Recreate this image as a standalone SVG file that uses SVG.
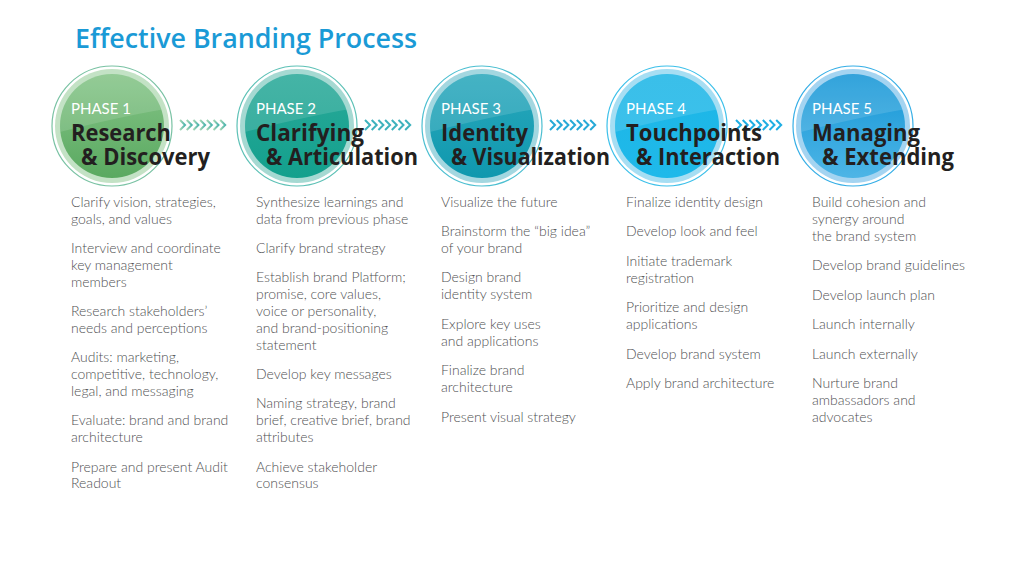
<svg xmlns="http://www.w3.org/2000/svg" width="1024" height="564" viewBox="0 0 1024 564">
<style>
.title{font-family:"Open Sans","Liberation Sans",sans-serif;font-weight:600;font-size:27px;fill:#1a9ad6}
.phase{font-family:"Lato","Liberation Sans",sans-serif;font-weight:400;font-size:15px;fill:#ffffff}
.head{font-family:"Open Sans","Liberation Sans",sans-serif;font-weight:700;font-size:22.5px;fill:#231f20}
.body{font-family:"Lato","Liberation Sans",sans-serif;font-weight:300;font-size:14px;fill:#505153}
.chev{fill:none;stroke-width:2}
.gloss{fill:#ffffff;fill-opacity:0.13}
</style>
<defs>
<linearGradient id="g1" x1="0" y1="0" x2="0" y2="1"><stop offset="0" stop-color="#84c487"/><stop offset="1" stop-color="#5aa960"/></linearGradient>
<linearGradient id="g2" x1="0" y1="0" x2="0" y2="1"><stop offset="0" stop-color="#2aa999"/><stop offset="1" stop-color="#13a08d"/></linearGradient>
<linearGradient id="g3" x1="0" y1="0" x2="0" y2="1"><stop offset="0" stop-color="#2aa8bc"/><stop offset="1" stop-color="#0f98ae"/></linearGradient>
<linearGradient id="g4" x1="0" y1="0" x2="0" y2="1"><stop offset="0" stop-color="#1db6e6"/><stop offset="1" stop-color="#1fb9ea"/></linearGradient>
<linearGradient id="g5" x1="0" y1="0" x2="0" y2="1"><stop offset="0" stop-color="#1596d6"/><stop offset="1" stop-color="#4db5e6"/></linearGradient>
<linearGradient id="cg1" x1="0" y1="0" x2="1" y2="0"><stop offset="0" stop-color="#a6d6b4"/><stop offset="1" stop-color="#4db5ad"/></linearGradient>
<clipPath id="disk"><circle cx="0" cy="0" r="52"/></clipPath>
<g id="chevs">
<path d="M0,-5 L5,0 L0,5"/><path d="M6.7,-5 L11.7,0 L6.7,5"/><path d="M13.4,-5 L18.4,0 L13.4,5"/><path d="M20.1,-5 L25.1,0 L20.1,5"/><path d="M26.8,-5 L31.8,0 L26.8,5"/><path d="M33.5,-5 L38.5,0 L33.5,5"/><path d="M40.2,-5 L45.2,0 L40.2,5"/>
</g>
</defs>
<rect width="1024" height="564" fill="#ffffff"/>
<text class="title" x="75" y="48" textLength="342" lengthAdjust="spacingAndGlyphs">Effective Branding Process</text>

<g id="connectors">
<use href="#chevs" x="180" y="125" class="chev" stroke="url(#cg1)"/>
<use href="#chevs" x="365" y="125" class="chev" stroke="#3db2bd"/>
<use href="#chevs" x="550" y="125" class="chev" stroke="#27a9d7"/>
<use href="#chevs" x="736" y="125" class="chev" stroke="#1eaee3"/>
</g>

<g id="phase1">
<g transform="translate(112,126)">
<circle r="60" fill="#ffffff" stroke="#79c2a3" stroke-width="1.2"/>
<circle r="57" fill="#c3e2c5"/>
<circle r="52" fill="url(#g1)"/>
<path class="gloss" clip-path="url(#disk)" d="M-60,-60 L60,-60 L60,-18 Q10,-10 -60,8 Z"/>
</g>
<text class="phase" x="71" y="114">PHASE 1</text>
<text class="head" x="71" y="141" textLength="100" lengthAdjust="spacingAndGlyphs">Research</text>
<text class="head" x="81" y="165" textLength="129" lengthAdjust="spacingAndGlyphs">&amp; Discovery</text>
<text class="body">
<tspan x="71" y="207">Clarify vision, strategies,</tspan><tspan x="71" y="224">goals, and values</tspan>
<tspan x="71" y="253">Interview and coordinate</tspan><tspan x="71" y="270">key management</tspan><tspan x="71" y="287">members</tspan>
<tspan x="71" y="316">Research stakeholders’</tspan><tspan x="71" y="333">needs and perceptions</tspan>
<tspan x="71" y="362">Audits: marketing,</tspan><tspan x="71" y="379">competitive, technology,</tspan><tspan x="71" y="396">legal, and messaging</tspan>
<tspan x="71" y="425">Evaluate: brand and brand</tspan><tspan x="71" y="442">architecture</tspan>
<tspan x="71" y="472">Prepare and present Audit</tspan><tspan x="71" y="488">Readout</tspan>
</text>
</g>

<g id="phase2">
<g transform="translate(297,126)">
<circle r="60" fill="#ffffff" stroke="#5dc1b6" stroke-width="1.2"/>
<circle r="57" fill="#a5d9d2"/>
<circle r="52" fill="url(#g2)"/>
<path class="gloss" clip-path="url(#disk)" d="M-60,-60 L60,-60 L60,-18 Q10,-10 -60,8 Z"/>
</g>
<text class="phase" x="256" y="114">PHASE 2</text>
<text class="head" x="256" y="141" textLength="108" lengthAdjust="spacingAndGlyphs">Clarifying</text>
<text class="head" x="266" y="165" textLength="152" lengthAdjust="spacingAndGlyphs">&amp; Articulation</text>
<text class="body">
<tspan x="256" y="207">Synthesize learnings and</tspan><tspan x="256" y="224">data from previous phase</tspan>
<tspan x="256" y="253">Clarify brand strategy</tspan>
<tspan x="256" y="282">Establish brand Platform;</tspan><tspan x="256" y="299">promise, core values,</tspan><tspan x="256" y="316">voice or personality,</tspan><tspan x="256" y="333">and brand-positioning</tspan><tspan x="256" y="350">statement</tspan>
<tspan x="256" y="379">Develop key messages</tspan>
<tspan x="256" y="408">Naming strategy, brand</tspan><tspan x="256" y="425">brief, creative brief, brand</tspan><tspan x="256" y="442">attributes</tspan>
<tspan x="256" y="472">Achieve stakeholder</tspan><tspan x="256" y="488">consensus</tspan>
</text>
</g>

<g id="phase3">
<g transform="translate(482,126)">
<circle r="60" fill="#ffffff" stroke="#4cbfd1" stroke-width="1.2"/>
<circle r="57" fill="#a3d7e0"/>
<circle r="52" fill="url(#g3)"/>
<path class="gloss" clip-path="url(#disk)" d="M-60,-60 L60,-60 L60,-18 Q10,-10 -60,8 Z"/>
</g>
<text class="phase" x="441" y="114">PHASE 3</text>
<text class="head" x="441" y="141" textLength="87" lengthAdjust="spacingAndGlyphs">Identity</text>
<text class="head" x="451" y="165" textLength="159" lengthAdjust="spacingAndGlyphs">&amp; Visualization</text>
<text class="body">
<tspan x="441" y="207">Visualize the future</tspan>
<tspan x="441" y="236">Brainstorm the “big idea”</tspan><tspan x="441" y="253">of your brand</tspan>
<tspan x="441" y="282">Design brand</tspan><tspan x="441" y="299">identity system</tspan>
<tspan x="441" y="329">Explore key uses</tspan><tspan x="441" y="346">and applications</tspan>
<tspan x="441" y="375">Finalize brand</tspan><tspan x="441" y="392">architecture</tspan>
<tspan x="441" y="422">Present visual strategy</tspan>
</text>
</g>

<g id="phase4">
<g transform="translate(667,126)">
<circle r="60" fill="#ffffff" stroke="#3cc0ea" stroke-width="1.2"/>
<circle r="57" fill="#a6def3"/>
<circle r="52" fill="url(#g4)"/>
<path class="gloss" clip-path="url(#disk)" d="M-60,-60 L60,-60 L60,-18 Q10,-10 -60,8 Z"/>
</g>
<text class="phase" x="626" y="114">PHASE 4</text>
<text class="head" x="626" y="141" textLength="136" lengthAdjust="spacingAndGlyphs">Touchpoints</text>
<text class="head" x="636" y="165" textLength="144" lengthAdjust="spacingAndGlyphs">&amp; Interaction</text>
<text class="body">
<tspan x="626" y="207">Finalize identity design</tspan>
<tspan x="626" y="236">Develop look and feel</tspan>
<tspan x="626" y="266">Initiate trademark</tspan><tspan x="626" y="283">registration</tspan>
<tspan x="626" y="312">Prioritize and design</tspan><tspan x="626" y="329">applications</tspan>
<tspan x="626" y="359">Develop brand system</tspan>
<tspan x="626" y="388">Apply brand architecture</tspan>
</text>
</g>

<g id="phase5">
<g transform="translate(853,126)">
<circle r="60" fill="#ffffff" stroke="#35aee6" stroke-width="1.2"/>
<circle r="57" fill="#a4d4f1"/>
<circle r="52" fill="url(#g5)"/>
<path class="gloss" clip-path="url(#disk)" d="M-60,-60 L60,-60 L60,-18 Q10,-10 -60,8 Z"/>
</g>
<text class="phase" x="812" y="114">PHASE 5</text>
<text class="head" x="812" y="141" textLength="108" lengthAdjust="spacingAndGlyphs">Managing</text>
<text class="head" x="822" y="165" textLength="132" lengthAdjust="spacingAndGlyphs">&amp; Extending</text>
<text class="body">
<tspan x="812" y="207">Build cohesion and</tspan><tspan x="812" y="224">synergy around</tspan><tspan x="812" y="241">the brand system</tspan>
<tspan x="812" y="270">Develop brand guidelines</tspan>
<tspan x="812" y="300">Develop launch plan</tspan>
<tspan x="812" y="329">Launch internally</tspan>
<tspan x="812" y="359">Launch externally</tspan>
<tspan x="812" y="388">Nurture brand</tspan><tspan x="812" y="405">ambassadors and</tspan><tspan x="812" y="422">advocates</tspan>
</text>
</g>
</svg>
